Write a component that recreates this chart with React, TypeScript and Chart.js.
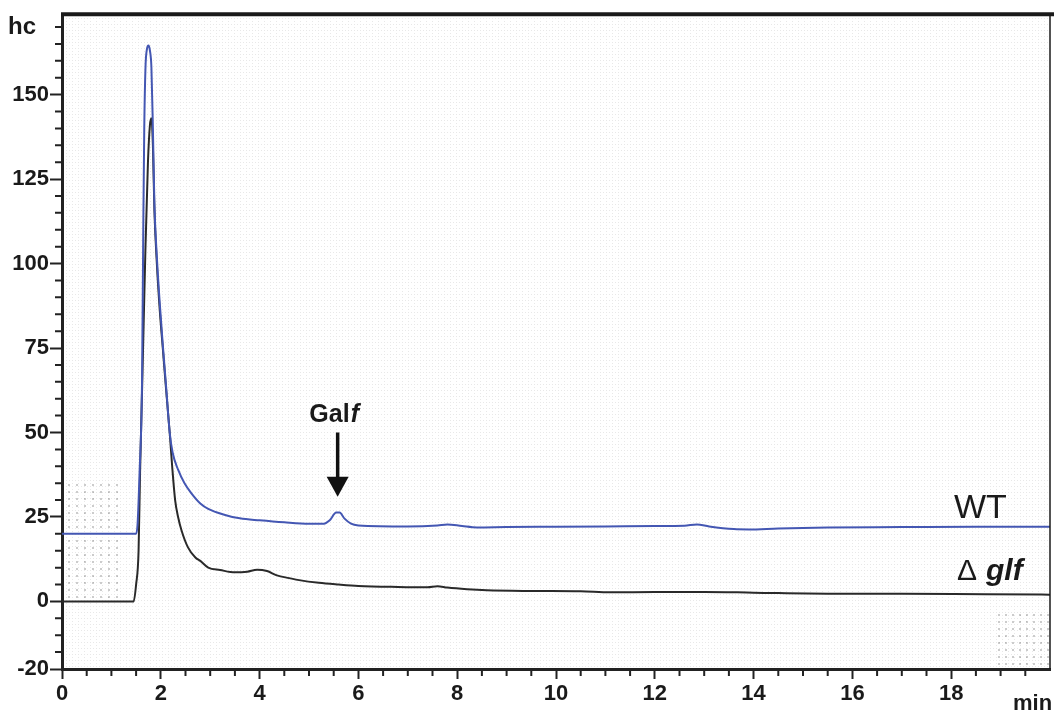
import React, { useEffect, useRef } from 'react';
import { Chart, registerables } from 'chart.js';
Chart.register(...registerables);

// ---- data (time in min, signal in hc) ----
const wtTime = [0, 1.0, 1.5, 1.53, 1.57, 1.62, 1.645, 1.665, 1.69, 1.72, 1.75, 1.78, 1.81, 1.84, 1.87, 1.92, 1.98, 2.04, 2.1, 2.18, 2.24, 2.35, 2.48, 2.62, 2.8, 2.96, 3.3, 3.6, 4.0, 4.5, 5.0, 5.3, 5.42, 5.55, 5.62, 5.72, 5.85, 6.0, 7.0, 7.6, 7.8, 8.1, 8.4, 9.0, 10, 11, 12, 12.6, 12.85, 13.1, 13.6, 13.9, 14.5, 15.5, 17, 18.5, 20];
const wtValue = [20, 20, 20, 23, 38, 65, 110, 140, 158, 163.5, 164.5, 163, 158, 140, 118, 102, 88, 76, 65, 50, 44, 39, 35, 32, 29, 27.4, 25.6, 24.6, 24, 23.4, 23, 23, 24, 26.3, 26.3, 24.5, 23, 22.5, 22.2, 22.5, 22.8, 22.3, 21.9, 22.0, 22.1, 22.2, 22.3, 22.4, 22.8, 22.2, 21.4, 21.3, 21.6, 21.9, 22, 22.1, 22.1];

const dgTime = [0, 1.0, 1.45, 1.5, 1.55, 1.58, 1.63, 1.69, 1.74, 1.78, 1.81, 1.84, 1.87, 1.92, 1.98, 2.04, 2.1, 2.18, 2.23, 2.29, 2.35, 2.42, 2.55, 2.7, 2.8, 2.96, 3.2, 3.5, 3.75, 3.95, 4.15, 4.35, 4.6, 4.8, 5.2, 5.6, 6.0, 6.8, 7.4, 7.6, 7.8, 8.2, 8.6, 9.5, 10.5, 11.1, 12, 13, 14, 15.5, 17, 18.7, 20];
const dgValue = [0, 0, 0, 5, 15, 38, 68, 105, 130, 141, 143, 135, 116, 100, 86, 75, 64, 50, 40, 30, 25, 21, 16, 13, 12, 10, 9.3, 8.6, 8.8, 9.4, 9.0, 7.7, 6.9, 6.3, 5.5, 5.0, 4.6, 4.3, 4.2, 4.5, 4.1, 3.6, 3.3, 3.1, 3.0, 2.7, 2.8, 2.8, 2.6, 2.3, 2.3, 2.1, 2.0];

const xMajorLabels = [0, 2, 4, 6, 8, 10, 12, 14, 16, 18];
const xMinorTicks = Array.from({ length: 41 }, (_, i) => i * 0.5);
const yMajorLabels = [-20, 0, 25, 50, 75, 100, 125, 150];
const yMinorTicks = Array.from({ length: 39 }, (_, i) => -20 + i * 5);

const X_MIN = 0, X_MAX = 20, Y_MIN = -20, Y_MAX = 173.8;
const FONT = '"Liberation Sans", Arial, sans-serif';

const decor = {
  id: 'decor',
  beforeDraw(chart: any) {
    const { ctx, chartArea: a } = chart;
    ctx.save();
    ctx.fillStyle = '#fff';
    ctx.fillRect(0, 0, chart.width, chart.height);
    const tile = document.createElement('canvas');
    tile.width = 6; tile.height = 6;
    const t = tile.getContext('2d')!;
    t.fillStyle = 'rgba(0,0,0,0.09)';
    t.fillRect(0, 0, 1, 1);
    t.fillRect(3, 0, 1, 1);
    t.fillRect(0, 3, 1, 1);
    const pat = ctx.createPattern(tile, 'repeat');
    ctx.fillStyle = pat;
    ctx.fillRect(a.left, a.top, a.right - a.left, a.bottom - a.top);
    // darker scanned dot patches
    ctx.fillStyle = 'rgba(0,0,0,0.2)';
    for (let x = 68; x < 120; x += 8) {
      for (let y = 484; y < 598; y += 7) {
        if (Math.abs(y - 533) < 5) continue;
        ctx.fillRect(x, y, 2, 2);
      }
    }
    for (let x = 998; x < 1048; x += 7) {
      for (let y = 614; y < 666; y += 7) ctx.fillRect(x, y, 2, 2);
    }
    ctx.restore();
  },
  afterDraw(chart: any) {
    const { ctx, chartArea: a, scales } = chart;
    const xs = scales.x, ys = scales.y;
    ctx.save();
    // top & right frame
    ctx.strokeStyle = '#1a1a1a';
    ctx.lineWidth = 4;
    ctx.beginPath();
    ctx.moveTo(a.left - 1, a.top);
    ctx.lineTo(a.right + 4, a.top);
    ctx.stroke();
    ctx.lineWidth = 1.5;
    ctx.beginPath();
    ctx.moveTo(a.right, a.top);
    ctx.lineTo(a.right, a.bottom);
    ctx.stroke();
    // minor ticks
    ctx.lineWidth = 2;
    ctx.strokeStyle = '#222';
    ctx.beginPath();
    yMinorTicks.forEach((v) => {
      if (yMajorLabels.includes(v)) return;
      const py = ys.getPixelForValue(v);
      ctx.moveTo(a.left - 7, py);
      ctx.lineTo(a.left, py);
    });
    xMinorTicks.forEach((v) => {
      if (v % 2 === 0) return;
      const px = xs.getPixelForValue(v);
      ctx.moveTo(px, a.bottom);
      ctx.lineTo(px, a.bottom + 7);
    });
    ctx.stroke();
    // texts
    ctx.fillStyle = '#1a1a1a';
    ctx.textBaseline = 'alphabetic';
    ctx.textAlign = 'left';
    ctx.font = `bold 24px ${FONT}`;
    ctx.fillText('hc', 8, 34);
    ctx.font = `bold 22px ${FONT}`;
    ctx.fillText('min', 1013, 710);
    ctx.font = `34px ${FONT}`;
    ctx.fillText('WT', 954, 518);
    ctx.font = `30px ${FONT}`;
    ctx.fillText('\u0394', 957, 580);
    ctx.font = `italic bold 30px ${FONT}`;
    ctx.fillText('glf', 986, 580);
    // Galf label + arrow
    const ax = xs.getPixelForValue(5.58);
    ctx.font = `bold 25px ${FONT}`;
    const w1 = ctx.measureText('Gal').width;
    ctx.font = `italic bold 25px ${FONT}`;
    const w2 = ctx.measureText('f').width;
    const startX = ax - (w1 + w2) / 2 - 4;
    ctx.font = `bold 25px ${FONT}`;
    ctx.fillText('Gal', startX, 422);
    ctx.font = `italic bold 25px ${FONT}`;
    ctx.fillText('f', startX + w1 + 1, 422);
    const top = ys.getPixelForValue(50);
    const tip = ys.getPixelForValue(31);
    ctx.strokeStyle = '#111';
    ctx.lineWidth = 3.5;
    ctx.beginPath();
    ctx.moveTo(ax, top);
    ctx.lineTo(ax, tip - 12);
    ctx.stroke();
    ctx.fillStyle = '#111';
    ctx.beginPath();
    ctx.moveTo(ax - 11, tip - 20);
    ctx.lineTo(ax + 11, tip - 20);
    ctx.lineTo(ax, tip);
    ctx.closePath();
    ctx.fill();
    ctx.restore();
  },
};

export default function App() {
  const ref = useRef<HTMLCanvasElement>(null);
  useEffect(() => {
    const wt = wtTime.map((x, i) => ({ x, y: wtValue[i] }));
    const dg = dgTime.map((x, i) => ({ x, y: dgValue[i] }));
    const chart = new Chart(ref.current!, {
      type: 'line',
      data: {
        datasets: [
          { label: 'WT', data: wt, borderColor: '#4457b3', borderWidth: 2, pointRadius: 0, cubicInterpolationMode: 'monotone', order: 0 },
          { label: 'Δglf', data: dg, borderColor: '#2a2a2a', borderWidth: 2, pointRadius: 0, cubicInterpolationMode: 'monotone', order: 1 },
        ],
      },
      options: {
        animation: false,
        responsive: true,
        maintainAspectRatio: false,
        layout: { padding: { top: 14, right: 4, left: 0, bottom: 0 } },
        plugins: { legend: { display: false }, tooltip: { enabled: false } },
        scales: {
          x: {
            type: 'linear',
            min: X_MIN,
            max: X_MAX,
            afterFit: (s: any) => { s.height = 42; },
            afterBuildTicks: (s: any) => { s.ticks = xMajorLabels.map((v) => ({ value: v })); },
            border: { display: true, color: '#222', width: 3 },
            grid: { display: true, drawOnChartArea: false, drawTicks: true, tickLength: 10, tickColor: '#222', tickWidth: 2 },
            ticks: {
              padding: 2,
              maxRotation: 0,
              autoSkip: false,
              color: '#1a1a1a',
              font: { family: FONT, size: 22, weight: 'bold' },
              callback: (v: any) => String(v),
            },
          },
          y: {
            type: 'linear',
            min: Y_MIN,
            max: Y_MAX,
            afterFit: (s: any) => { s.width = 62; },
            afterBuildTicks: (s: any) => { s.ticks = yMajorLabels.map((v) => ({ value: v })); },
            border: { display: true, color: '#222', width: 3 },
            grid: { display: true, drawOnChartArea: false, drawTicks: true, tickLength: 12, tickColor: '#222', tickWidth: 2 },
            ticks: {
              padding: 1,
              autoSkip: false,
              color: '#1a1a1a',
              font: { family: FONT, size: 22, weight: 'bold' },
              callback: (v: any) => String(v),
            },
          },
        },
      },
      plugins: [decor],
    } as any);
    return () => chart.destroy();
  }, []);
  return (
    <div style={{ position: 'fixed', left: 0, top: 0, width: 1054, height: 711 }}>
      <canvas ref={ref} />
    </div>
  );
}
